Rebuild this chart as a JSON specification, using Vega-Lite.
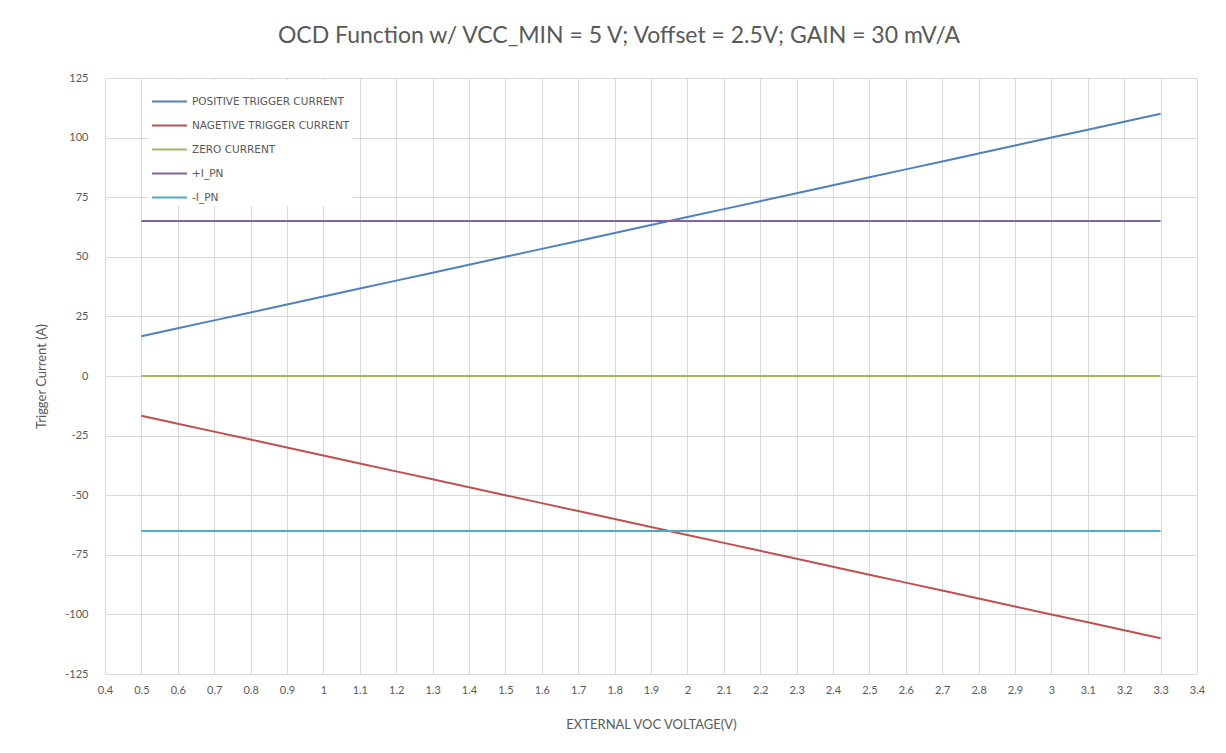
{
  "$schema": "https://vega.github.io/schema/vega-lite/v6.json",
  "width": 1092,
  "height": 596,
  "autosize": "none",
  "padding": {"left": 105, "top": 78, "right": 29, "bottom": 79},
  "background": "white",
  "title": {
    "text": "OCD Function w/ VCC_MIN = 5 V; Voffset = 2.5V; GAIN = 30 mV/A",
    "font": "Lato",
    "fontSize": 23,
    "fontWeight": "normal",
    "color": "#595959",
    "anchor": "middle",
    "dx": -32,
    "offset": 24
  },
  "data": {
    "values": [
      {"x": 0.5, "pos": 16.667, "neg": -16.667, "zero": 0, "ipn": 65, "nipn": -65},
      {"x": 0.6, "pos": 20, "neg": -20, "zero": 0, "ipn": 65, "nipn": -65},
      {"x": 0.7, "pos": 23.333, "neg": -23.333, "zero": 0, "ipn": 65, "nipn": -65},
      {"x": 0.8, "pos": 26.667, "neg": -26.667, "zero": 0, "ipn": 65, "nipn": -65},
      {"x": 0.9, "pos": 30, "neg": -30, "zero": 0, "ipn": 65, "nipn": -65},
      {"x": 1.0, "pos": 33.333, "neg": -33.333, "zero": 0, "ipn": 65, "nipn": -65},
      {"x": 1.1, "pos": 36.667, "neg": -36.667, "zero": 0, "ipn": 65, "nipn": -65},
      {"x": 1.2, "pos": 40, "neg": -40, "zero": 0, "ipn": 65, "nipn": -65},
      {"x": 1.3, "pos": 43.333, "neg": -43.333, "zero": 0, "ipn": 65, "nipn": -65},
      {"x": 1.4, "pos": 46.667, "neg": -46.667, "zero": 0, "ipn": 65, "nipn": -65},
      {"x": 1.5, "pos": 50, "neg": -50, "zero": 0, "ipn": 65, "nipn": -65},
      {"x": 1.6, "pos": 53.333, "neg": -53.333, "zero": 0, "ipn": 65, "nipn": -65},
      {"x": 1.7, "pos": 56.667, "neg": -56.667, "zero": 0, "ipn": 65, "nipn": -65},
      {"x": 1.8, "pos": 60, "neg": -60, "zero": 0, "ipn": 65, "nipn": -65},
      {"x": 1.9, "pos": 63.333, "neg": -63.333, "zero": 0, "ipn": 65, "nipn": -65},
      {"x": 2.0, "pos": 66.667, "neg": -66.667, "zero": 0, "ipn": 65, "nipn": -65},
      {"x": 2.1, "pos": 70, "neg": -70, "zero": 0, "ipn": 65, "nipn": -65},
      {"x": 2.2, "pos": 73.333, "neg": -73.333, "zero": 0, "ipn": 65, "nipn": -65},
      {"x": 2.3, "pos": 76.667, "neg": -76.667, "zero": 0, "ipn": 65, "nipn": -65},
      {"x": 2.4, "pos": 80, "neg": -80, "zero": 0, "ipn": 65, "nipn": -65},
      {"x": 2.5, "pos": 83.333, "neg": -83.333, "zero": 0, "ipn": 65, "nipn": -65},
      {"x": 2.6, "pos": 86.667, "neg": -86.667, "zero": 0, "ipn": 65, "nipn": -65},
      {"x": 2.7, "pos": 90, "neg": -90, "zero": 0, "ipn": 65, "nipn": -65},
      {"x": 2.8, "pos": 93.333, "neg": -93.333, "zero": 0, "ipn": 65, "nipn": -65},
      {"x": 2.9, "pos": 96.667, "neg": -96.667, "zero": 0, "ipn": 65, "nipn": -65},
      {"x": 3.0, "pos": 100, "neg": -100, "zero": 0, "ipn": 65, "nipn": -65},
      {"x": 3.1, "pos": 103.333, "neg": -103.333, "zero": 0, "ipn": 65, "nipn": -65},
      {"x": 3.2, "pos": 106.667, "neg": -106.667, "zero": 0, "ipn": 65, "nipn": -65},
      {"x": 3.3, "pos": 110, "neg": -110, "zero": 0, "ipn": 65, "nipn": -65}
    ]
  },
  "transform": [
    {"fold": ["pos", "neg", "zero", "ipn", "nipn"], "as": ["series", "value"]}
  ],
  "mark": {"type": "line", "strokeWidth": 2},
  "encoding": {
    "x": {
      "field": "x",
      "type": "quantitative",
      "scale": {"domain": [0.4, 3.4], "nice": false, "zero": false},
      "axis": {
        "title": "EXTERNAL VOC VOLTAGE(V)",
        "values": [0.4,0.5,0.6,0.7,0.8,0.9,1,1.1,1.2,1.3,1.4,1.5,1.6,1.7,1.8,1.9,2,2.1,2.2,2.3,2.4,2.5,2.6,2.7,2.8,2.9,3,3.1,3.2,3.3,3.4],
        "format": ".2~f",
        "grid": true,
        "gridColor": "#D9D9D9",
        "domain": false,
        "ticks": false,
        "labelPadding": 10,
        "labelFont": "Lato",
        "labelFontSize": 11,
        "labelColor": "#595959",
        "labelFlush": false,
        "titleFont": "Lato",
        "titleFontSize": 13,
        "titleFontWeight": "normal",
        "titleColor": "#595959",
        "titlePadding": 23
      }
    },
    "y": {
      "field": "value",
      "type": "quantitative",
      "scale": {"domain": [-125, 125], "nice": false},
      "axis": {
        "title": "Trigger Current (A)",
        "values": [-125,-100,-75,-50,-25,0,25,50,75,100,125],
        "labelExpr": "toString(datum.value)",
        "grid": true,
        "gridColor": "#D9D9D9",
        "domain": false,
        "ticks": false,
        "labelPadding": 17,
        "labelFont": "Lato",
        "labelFontSize": 11,
        "labelColor": "#595959",
        "labelFlush": false,
        "titleFont": "Lato",
        "titleFontSize": 13,
        "titleFontWeight": "normal",
        "titleColor": "#595959",
        "titlePadding": 16
      }
    },
    "color": {
      "field": "series",
      "type": "nominal",
      "scale": {
        "domain": ["pos", "neg", "zero", "ipn", "nipn"],
        "range": ["#4F81BD", "#C0504D", "#9BBB59", "#8064A2", "#4BACC6"]
      },
      "legend": {
        "title": null,
        "orient": "none",
        "legendX": 43,
        "legendY": 2,
        "fillColor": "white",
        "padding": 3,
        "rowPadding": -8,
        "symbolType": "stroke",
        "symbolSize": 1225,
        "symbolStrokeWidth": 2,
        "labelFont": "DejaVu Sans",
        "labelFontSize": 10.5,
        "labelColor": "#595959",
        "labelOffset": 4,
        "labelLimit": 300,
        "labelExpr": "{'pos':'POSITIVE TRIGGER CURRENT','neg':'NAGETIVE TRIGGER CURRENT','zero':'ZERO CURRENT','ipn':'+I_PN','nipn':'-I_PN'}[datum.value]"
      }
    }
  },
  "config": {
    "view": {"stroke": null}
  }
}
